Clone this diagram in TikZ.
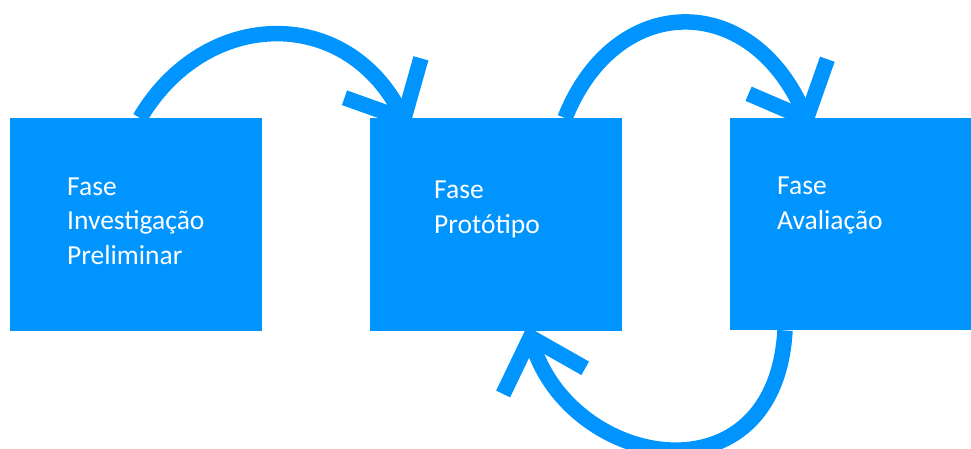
\documentclass[tikz,border=0pt]{standalone}
\usepackage{fontspec}
\setmainfont{Carlito}
\usepackage{tikz}
\usetikzlibrary{arrows.meta}
\usetikzlibrary{backgrounds}
\definecolor{fasebox}{RGB}{0,148,255}

\begin{document}
\begin{tikzpicture}[x=1pt,y=-1pt,
    phase/.style={fill=fasebox, draw=none, inner sep=0pt, anchor=north west},
    lbl/.style={text=white, align=left, inner sep=0pt, anchor=base west,
                font=\fontsize{27.5}{34.5}\selectfont},
    flow/.style={draw=fasebox, line width=15.5pt,
                 -{Straight Barb[length=46pt,width=86pt]}}]
                \useasboundingbox (0,0) rectangle (971,448);

                % Phase boxes
                \node[phase, minimum width=252pt, minimum height=213pt] (inv) at (10,118) {};
                \node[phase, minimum width=252pt, minimum height=213pt] (prot) at (370,118) {};
                \node[phase, minimum width=241pt, minimum height=212pt] (aval) at (730,118) {};

                % Labels (anchored on the last line)
                \node[lbl] (invtxt) at (67,264) {Fase\\Investigação\\Preliminar};
                \node[lbl] (prottxt) at (434,233) {Fase\\Protótipo};
                \node[lbl] (avaltxt) at (777,229) {Fase\\Avaliação};

                % Arrows between phases (tips hidden under the boxes)
                \begin{scope}[on background layer]
                \draw[flow] ([xshift=130pt]inv.north west) .. controls (205,8) and (345,5) .. ([xshift=39pt,yshift=-11pt]prot.north west);
                \draw[flow] ([xshift=195pt]prot.north west) .. controls (615,-8) and (750,-10) .. ([xshift=81pt,yshift=-11pt]aval.north west);
                \draw[flow] ([xshift=55pt]aval.south west) .. controls (775,505) and (572,470) .. ([xshift=157pt,yshift=5pt]prot.south west);
                \end{scope}
\end{tikzpicture}
\end{document}
